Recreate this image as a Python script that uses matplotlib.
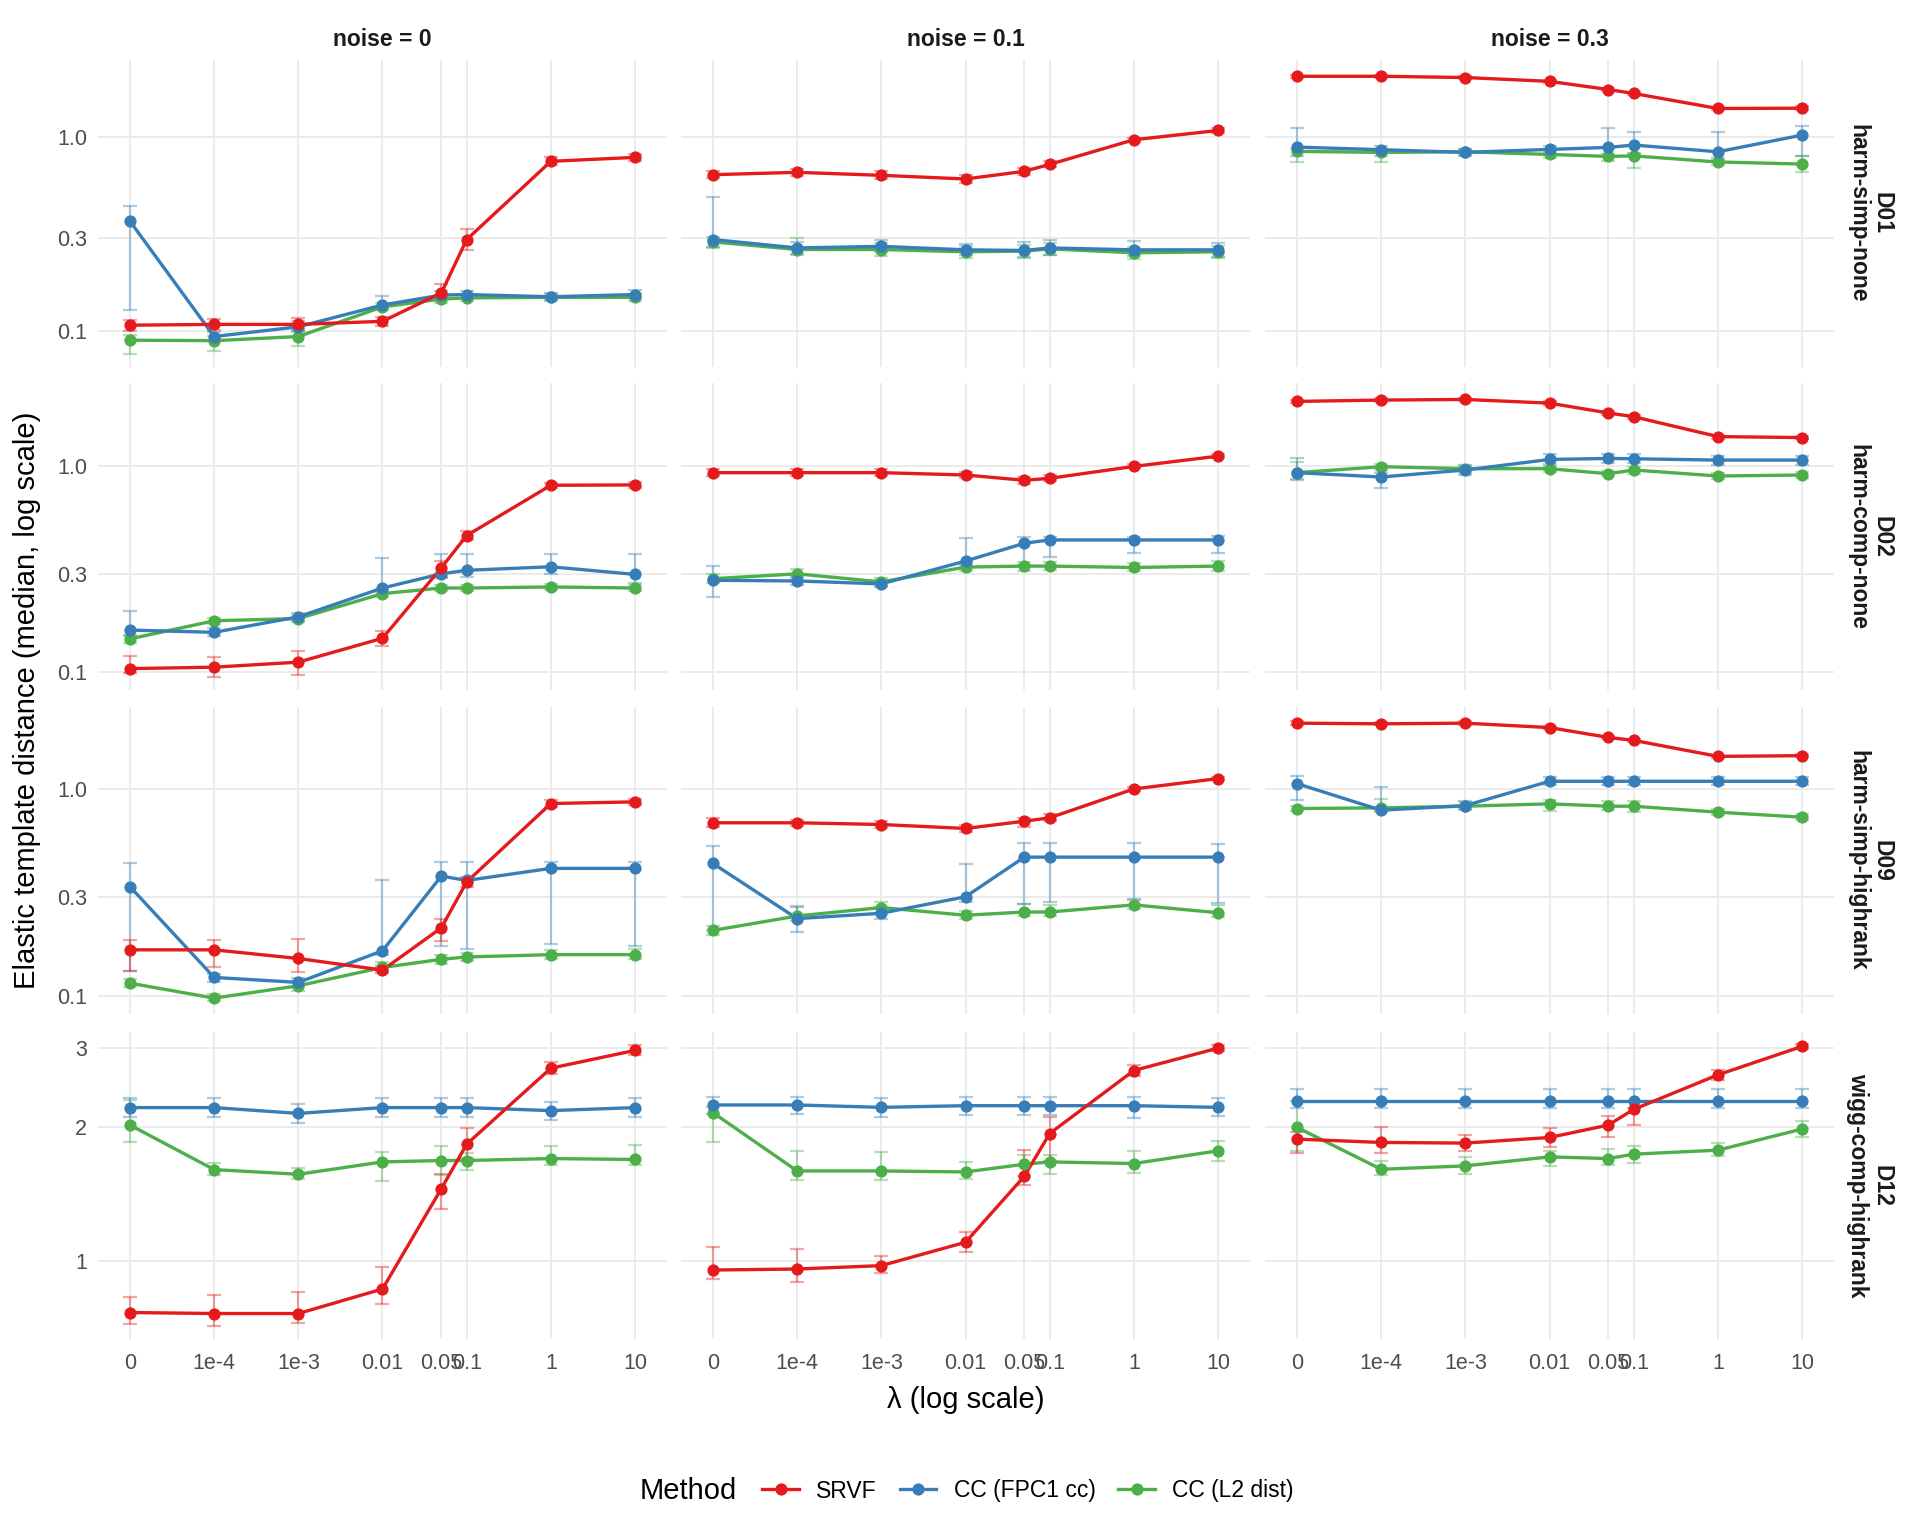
import numpy as np
import matplotlib.pyplot as plt
from matplotlib.lines import Line2D
from matplotlib.ticker import NullLocator

plt.rcParams['font.family'] = ['Liberation Sans', 'DejaVu Sans']

# === Data (medians and error-bar bounds) ===
lambdas = [0, 1e-4, 1e-3, 0.01, 0.05, 0.1, 1, 10]
lambda_labels = ["0", "1e-4", "1e-3", "0.01", "0.05", "0.1", "1", "10"]
noise_levels = ["0", "0.1", "0.3"]
datasets = ["D01", "D02", "D09", "D12"]
dataset_desc = ["harm-simp-none", "harm-comp-none", "harm-simp-highrank", "wigg-comp-highrank"]
methods = ["SRVF", "CC (FPC1 cc)", "CC (L2 dist)"]
colors = ["#E41A1C", "#377EB8", "#4DAF4A"]

# each list: [noise=0, noise=0.1, noise=0.3]
d01_srvf = [[0.107, 0.108, 0.108, 0.112, 0.157, 0.296, 0.750, 0.786],
            [0.640, 0.658, 0.635, 0.608, 0.666, 0.723, 0.969, 1.082],
            [2.06, 2.06, 2.03, 1.94, 1.76, 1.68, 1.405, 1.41]]
d01_srvf_lo = [[0.100, 0.101, 0.102, 0.106, 0.148, 0.263, 0.720, 0.755],
               [0.612, 0.630, 0.608, 0.580, 0.636, 0.700, 0.945, 1.055],
               [2.02, 2.02, 1.99, 1.90, 1.72, 1.65, 1.38, 1.38]]
d01_srvf_hi = [[0.114, 0.115, 0.116, 0.118, 0.174, 0.336, 0.785, 0.815],
               [0.668, 0.685, 0.665, 0.640, 0.695, 0.750, 0.995, 1.110],
               [2.10, 2.10, 2.07, 1.98, 1.80, 1.71, 1.43, 1.44]]
d01_fpc = [[0.368, 0.0935, 0.105, 0.136, 0.153, 0.154, 0.150, 0.154],
           [0.296, 0.268, 0.273, 0.262, 0.260, 0.268, 0.262, 0.262],
           [0.888, 0.861, 0.834, 0.864, 0.885, 0.910, 0.840, 1.024]]
d01_fpc_lo = [[0.128, 0.089, 0.100, 0.130, 0.146, 0.147, 0.145, 0.147],
              [0.270, 0.250, 0.255, 0.245, 0.238, 0.245, 0.243, 0.242],
              [0.80, 0.80, 0.80, 0.81, 0.80, 0.82, 0.78, 0.80]]
d01_fpc_hi = [[0.443, 0.099, 0.112, 0.152, 0.160, 0.161, 0.157, 0.162],
              [0.489, 0.288, 0.295, 0.280, 0.288, 0.295, 0.292, 0.285],
              [1.11, 0.90, 0.87, 0.90, 1.11, 1.057, 1.057, 1.14]]
d01_l2 = [[0.0895, 0.089, 0.0935, 0.133, 0.146, 0.148, 0.149, 0.149],
          [0.288, 0.263, 0.263, 0.256, 0.258, 0.265, 0.253, 0.256],
          [0.844, 0.834, 0.840, 0.814, 0.795, 0.800, 0.744, 0.726]]
d01_l2_lo = [[0.0764, 0.079, 0.084, 0.128, 0.140, 0.142, 0.143, 0.143],
             [0.268, 0.245, 0.243, 0.238, 0.240, 0.245, 0.236, 0.238],
             [0.744, 0.744, 0.81, 0.78, 0.75, 0.693, 0.72, 0.658]]
d01_l2_hi = [[0.095, 0.094, 0.099, 0.139, 0.152, 0.154, 0.155, 0.155],
             [0.305, 0.300, 0.285, 0.275, 0.278, 0.285, 0.270, 0.275],
             [0.87, 0.87, 0.865, 0.84, 0.82, 0.83, 0.765, 0.80]]

d02_srvf = [[0.104, 0.1057, 0.1118, 0.146, 0.321, 0.460, 0.807, 0.810],
            [0.929, 0.929, 0.929, 0.905, 0.853, 0.872, 0.996, 1.117],
            [2.06, 2.09, 2.105, 2.02, 1.81, 1.736, 1.39, 1.375]]
d02_srvf_lo = [[0.099, 0.095, 0.097, 0.134, 0.290, 0.440, 0.780, 0.780],
               [0.89, 0.89, 0.89, 0.875, 0.82, 0.845, 0.975, 1.09],
               [2.02, 2.05, 2.06, 1.98, 1.77, 1.70, 1.36, 1.35]]
d02_srvf_hi = [[0.120, 0.118, 0.126, 0.159, 0.346, 0.486, 0.830, 0.835],
               [0.965, 0.965, 0.965, 0.935, 0.885, 0.90, 1.02, 1.14],
               [2.10, 2.13, 2.15, 2.06, 1.85, 1.77, 1.42, 1.40]]
d02_fpc = [[0.160, 0.156, 0.1855, 0.256, 0.300, 0.312, 0.3246, 0.298],
           [0.279, 0.277, 0.268, 0.346, 0.422, 0.438, 0.438, 0.438],
           [0.929, 0.885, 0.957, 1.077, 1.089, 1.085, 1.069, 1.069]]
d02_fpc_lo = [[0.150, 0.150, 0.178, 0.245, 0.285, 0.290, 0.300, 0.270],
              [0.232, 0.265, 0.258, 0.330, 0.330, 0.360, 0.380, 0.380],
              [0.86, 0.786, 0.90, 1.02, 1.03, 1.03, 1.01, 1.01]]
d02_fpc_hi = [[0.198, 0.163, 0.193, 0.357, 0.375, 0.375, 0.375, 0.375],
              [0.327, 0.290, 0.280, 0.446, 0.455, 0.455, 0.455, 0.460],
              [1.089, 0.93, 1.01, 1.14, 1.14, 1.14, 1.12, 1.12]]
d02_l2 = [[0.145, 0.1775, 0.182, 0.2405, 0.256, 0.256, 0.259, 0.256],
          [0.284, 0.300, 0.274, 0.3234, 0.327, 0.327, 0.322, 0.327],
          [0.929, 0.993, 0.971, 0.971, 0.918, 0.957, 0.895, 0.905]]
d02_l2_lo = [[0.139, 0.171, 0.175, 0.232, 0.247, 0.247, 0.250, 0.247],
             [0.270, 0.285, 0.262, 0.308, 0.310, 0.312, 0.308, 0.310],
             [0.87, 0.96, 0.93, 0.94, 0.89, 0.92, 0.865, 0.875]]
d02_l2_hi = [[0.151, 0.184, 0.189, 0.249, 0.266, 0.266, 0.268, 0.266],
             [0.300, 0.316, 0.287, 0.338, 0.342, 0.342, 0.337, 0.345],
             [1.05, 1.02, 1.00, 1.00, 0.95, 0.99, 0.93, 0.94]]

d09_srvf = [[0.1667, 0.1667, 0.1514, 0.133, 0.213, 0.355, 0.850, 0.866],
            [0.686, 0.686, 0.673, 0.644, 0.698, 0.725, 1.000, 1.122],
            [2.08, 2.065, 2.08, 1.98, 1.775, 1.717, 1.437, 1.448]]
d09_srvf_lo = [[0.132, 0.137, 0.130, 0.129, 0.184, 0.335, 0.82, 0.835],
               [0.655, 0.66, 0.645, 0.62, 0.655, 0.70, 0.975, 1.10],
               [2.04, 2.03, 2.04, 1.94, 1.74, 1.68, 1.41, 1.42]]
d09_srvf_hi = [[0.186, 0.187, 0.189, 0.140, 0.234, 0.375, 0.88, 0.895],
               [0.725, 0.71, 0.70, 0.67, 0.72, 0.755, 1.025, 1.145],
               [2.12, 2.10, 2.12, 2.02, 1.81, 1.75, 1.46, 1.48]]
d09_fpc = [[0.3367, 0.1226, 0.116, 0.165, 0.379, 0.361, 0.413, 0.413],
           [0.436, 0.236, 0.2505, 0.301, 0.468, 0.468, 0.468, 0.468],
           [1.061, 0.789, 0.831, 1.089, 1.089, 1.089, 1.089, 1.089]]
d09_fpc_lo = [[0.132, 0.117, 0.110, 0.158, 0.174, 0.168, 0.178, 0.174],
              [0.207, 0.204, 0.235, 0.285, 0.277, 0.283, 0.295, 0.280],
              [0.888, 0.77, 0.80, 1.04, 1.04, 1.04, 1.04, 1.04]]
d09_fpc_hi = [[0.436, 0.128, 0.122, 0.361, 0.444, 0.444, 0.444, 0.444],
              [0.529, 0.270, 0.270, 0.435, 0.545, 0.545, 0.545, 0.540],
              [1.15, 1.022, 0.87, 1.14, 1.14, 1.14, 1.14, 1.14]]
d09_l2 = [[0.115, 0.0974, 0.1117, 0.137, 0.150, 0.154, 0.158, 0.158],
          [0.207, 0.243, 0.267, 0.245, 0.254, 0.254, 0.275, 0.252],
          [0.804, 0.810, 0.825, 0.847, 0.825, 0.825, 0.772, 0.730]]
d09_l2_lo = [[0.110, 0.094, 0.105, 0.130, 0.143, 0.147, 0.150, 0.150],
             [0.197, 0.231, 0.250, 0.235, 0.243, 0.243, 0.262, 0.240],
             [0.78, 0.78, 0.79, 0.78, 0.79, 0.77, 0.745, 0.705]]
d09_l2_hi = [[0.121, 0.102, 0.118, 0.145, 0.158, 0.161, 0.166, 0.168],
             [0.218, 0.272, 0.285, 0.257, 0.278, 0.275, 0.290, 0.275],
             [0.83, 0.89, 0.86, 0.88, 0.87, 0.87, 0.80, 0.755]]

d12_srvf = [[0.768, 0.764, 0.764, 0.867, 1.454, 1.829, 2.705, 2.965],
            [0.956, 0.961, 0.978, 1.103, 1.550, 1.932, 2.673, 3.000],
            [1.877, 1.845, 1.839, 1.893, 2.018, 2.188, 2.614, 3.027]]
d12_srvf_lo = [[0.723, 0.715, 0.727, 0.802, 1.311, 1.70, 2.62, 2.90],
               [0.913, 0.90, 0.94, 1.05, 1.48, 1.68, 2.60, 2.95],
               [1.75, 1.75, 1.77, 1.80, 1.90, 2.02, 2.55, 2.98]]
d12_srvf_hi = [[0.83, 0.84, 0.852, 0.973, 1.565, 1.99, 2.79, 3.05],
               [1.075, 1.065, 1.03, 1.16, 1.772, 2.10, 2.75, 3.05],
               [1.95, 2.00, 1.92, 1.99, 2.115, 2.29, 2.68, 3.07]]
d12_fpc = [[2.208, 2.208, 2.143, 2.208, 2.208, 2.208, 2.174, 2.208],
           [2.238, 2.238, 2.211, 2.230, 2.230, 2.230, 2.230, 2.211],
           [2.28, 2.28, 2.28, 2.28, 2.28, 2.28, 2.28, 2.28]]
d12_fpc_lo = [[2.10, 2.10, 2.04, 2.10, 2.10, 2.10, 2.07, 2.10],
              [2.14, 2.14, 2.10, 2.13, 2.13, 2.13, 2.09, 2.11],
              [2.20, 2.20, 2.20, 2.20, 2.20, 2.20, 2.20, 2.20]]
d12_fpc_hi = [[2.32, 2.32, 2.25, 2.32, 2.32, 2.32, 2.27, 2.32],
              [2.33, 2.33, 2.32, 2.33, 2.33, 2.33, 2.33, 2.32],
              [2.43, 2.43, 2.43, 2.43, 2.43, 2.43, 2.43, 2.43]]
d12_l2 = [[2.018, 1.604, 1.566, 1.669, 1.681, 1.681, 1.698, 1.690],
          [2.151, 1.593, 1.593, 1.585, 1.649, 1.669, 1.655, 1.767],
          [1.994, 1.607, 1.635, 1.713, 1.698, 1.737, 1.773, 1.977]]
d12_l2_lo = [[1.851, 1.56, 1.53, 1.51, 1.56, 1.60, 1.64, 1.64],
             [1.845, 1.518, 1.52, 1.53, 1.55, 1.57, 1.58, 1.68],
             [1.77, 1.56, 1.57, 1.63, 1.64, 1.66, 1.72, 1.90]]
d12_l2_hi = [[2.30, 1.66, 1.62, 1.76, 1.81, 1.75, 1.81, 1.82],
             [2.22, 1.763, 1.76, 1.67, 1.73, 1.73, 1.77, 1.86],
             [2.28, 1.68, 1.71, 1.77, 1.78, 1.81, 1.84, 2.06]]

# per-row y ticks and limits (free y per row)
row_ticks = [[0.1, 0.3, 1.0], [0.1, 0.3, 1.0], [0.1, 0.3, 1.0], [1, 2, 3]]
row_ticklabels = [["0.1", "0.3", "1.0"]] * 3 + [["1", "2", "3"]]
row_ylim = [(0.0651, 2.50), (0.0819, 2.53), (0.0816, 2.49), (0.67, 3.26)]

series = {
    "D01": [(d01_srvf, d01_srvf_lo, d01_srvf_hi), (d01_fpc, d01_fpc_lo, d01_fpc_hi), (d01_l2, d01_l2_lo, d01_l2_hi)],
    "D02": [(d02_srvf, d02_srvf_lo, d02_srvf_hi), (d02_fpc, d02_fpc_lo, d02_fpc_hi), (d02_l2, d02_l2_lo, d02_l2_hi)],
    "D09": [(d09_srvf, d09_srvf_lo, d09_srvf_hi), (d09_fpc, d09_fpc_lo, d09_fpc_hi), (d09_l2, d09_l2_lo, d09_l2_hi)],
    "D12": [(d12_srvf, d12_srvf_lo, d12_srvf_hi), (d12_fpc, d12_fpc_lo, d12_fpc_hi), (d12_l2, d12_l2_lo, d12_l2_hi)],
}

# lambda = 0 is placed one decade below 1e-4
lam = np.array(lambdas, dtype=float)
xpos = np.log10(np.where(lam == 0, 1e-5, lam))

W, H = 1920, 1536
fig = plt.figure(figsize=(W / 100, H / 100), dpi=100)

col_left = [98, 681, 1265]
col_w = 569
row_top = [60, 383, 707, 1032]
row_h = 307

grid_col = "#EBEBEB"
tick_col = "#4D4D4D"
strip_col = "#1A1A1A"

for r, ds in enumerate(datasets):
    for c in range(3):
        ax = fig.add_axes([col_left[c] / W, 1 - (row_top[r] + row_h) / H, col_w / W, row_h / H])
        ax.set_yscale('log')
        for spine in ax.spines.values():
            spine.set_visible(False)
        ax.set_axisbelow(True)
        ax.grid(True, which='major', color=grid_col, lw=1.4)

        # draw green first, red last (red sits on top)
        for m in [2, 1, 0]:
            med, lo, hi = (np.array(a[c]) for a in series[ds][m])
            ax.errorbar(xpos, med, yerr=[med - lo, hi - med], fmt='none',
                        ecolor=colors[m], alpha=0.4, elinewidth=1.6,
                        capsize=4.7, capthick=1.6, zorder=2)
        for m in [2, 1, 0]:
            med = np.array(series[ds][m][0][c])
            ax.plot(xpos, med, color=colors[m], lw=2.4, zorder=3)
        for m in [2, 1, 0]:
            med = np.array(series[ds][m][0][c])
            ax.plot(xpos, med, 'o', color=colors[m], ms=8.8, mew=0, zorder=4)

        ax.set_xlim(-5.38, 1.38)
        ax.set_ylim(*row_ylim[r])
        ax.set_xticks(xpos)
        ax.set_xticklabels(lambda_labels)
        ax.set_yticks(row_ticks[r])
        ax.set_yticklabels(row_ticklabels[r])
        ax.yaxis.set_minor_locator(NullLocator())
        ax.xaxis.set_minor_locator(NullLocator())
        ax.tick_params(axis='both', length=0, labelsize=15.5, labelcolor=tick_col)
        ax.tick_params(axis='x', pad=10)
        ax.tick_params(axis='y', pad=8)
        if c > 0:
            ax.tick_params(labelleft=False)
        if r < 3:
            ax.tick_params(labelbottom=False)

        if r == 0:
            fig.text((col_left[c] + col_w / 2) / W, 1 - 39 / H, f"noise = {noise_levels[c]}",
                     ha='center', va='center', fontsize=16.5, fontweight='bold', color=strip_col)
    fig.text(1870 / W, 1 - (row_top[r] + row_h / 2) / H, f"{ds}\n{dataset_desc[r]}",
             ha='center', va='center', rotation=-90, multialignment='center',
             fontsize=16.5, fontweight='bold', color=strip_col, linespacing=1.1)

fig.text(27 / W, 1 - 700 / H, "Elastic template distance (median, log scale)",
         rotation=90, ha='center', va='center', fontsize=21)
fig.text(966 / W, 1 - 1400 / H, "λ (log scale)", ha='center', va='center', fontsize=21)

# legend laid out horizontally with the title on the left
handles = [Line2D([0], [0], color=colors[i], lw=2.4, marker='o', ms=8.8, mew=0) for i in range(3)]
fig.legend(handles, methods, loc='center', bbox_to_anchor=(1028 / W, 1 - 1491 / H), ncol=3,
           frameon=False, fontsize=16.5, handlelength=1.6, handletextpad=0.75, columnspacing=1.0)
fig.text(640 / W, 1 - 1491 / H, "Method", ha='left', va='center', fontsize=21)

fig.savefig("out.png", dpi=100, facecolor='white')
